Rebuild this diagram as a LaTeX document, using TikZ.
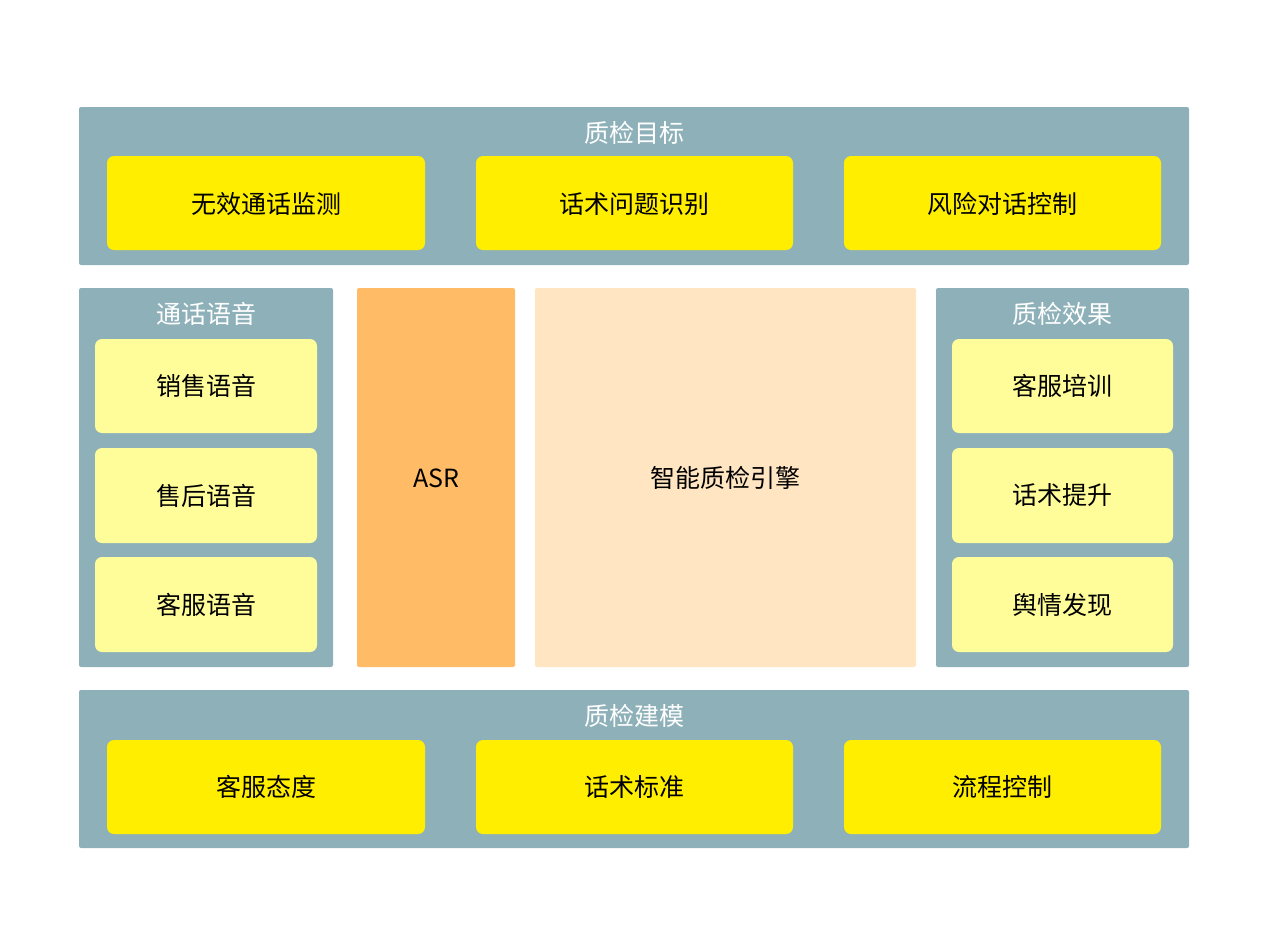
\documentclass[tikz,border=0pt]{standalone}
\usepackage{fontspec}
\setmainfont{Noto Sans CJK SC}
\definecolor{panel}{HTML}{8EB1B9}
\definecolor{ybox}{HTML}{FFEE00}
\definecolor{lybox}{HTML}{FFFD9A}
\definecolor{asrc}{HTML}{FFBB66}
\definecolor{engc}{HTML}{FFE5C2}
\tikzset{
  panelbox/.style={fill=panel, rounded corners=2pt, draw=none},
  ybx/.style={fill=ybox, rounded corners=7pt, draw=none},
  lybx/.style={fill=lybox, rounded corners=7pt, draw=none},
  boxtext/.style={font=\fontsize{25}{29}\selectfont, text=black},
  titletext/.style={font=\fontsize{25}{29}\selectfont, text=white},
}
\begin{document}
\begin{tikzpicture}[x=1pt,y=-1pt]
\useasboundingbox (0,0) rectangle (1269,951);
% top band
\fill[panelbox] (79,107) rectangle (1189,265);
\node[titletext] (t1) at (634,133) {质检目标};
\fill[ybx] (107,156) rectangle (425,250);
\node[boxtext] (a1) at (266,204) {无效通话监测};
\fill[ybx] (476,156) rectangle (793,250);
\node[boxtext] (a2) at (634.5,204) {话术问题识别};
\fill[ybx] (844,156) rectangle (1161,250);
\node[boxtext] (a3) at (1002.5,204) {风险对话控制};
% left panel
\fill[panelbox] (79,288) rectangle (333,667);
\node[titletext] (t2) at (206,314) {通话语音};
\fill[lybx] (95,339) rectangle (317,433);
\node[boxtext] (l1) at (206,386) {销售语音};
\fill[lybx] (95,448) rectangle (317,543);
\node[boxtext] (l2) at (206,495.5) {售后语音};
\fill[lybx] (95,557) rectangle (317,652);
\node[boxtext] (l3) at (206,604.5) {客服语音};
% ASR
\fill[fill=asrc, rounded corners=2pt] (357,288) rectangle (515,667);
\node[boxtext] (asr) at (436,478) {ASR};
% engine
\fill[fill=engc, rounded corners=2pt] (535,288) rectangle (916,667);
\node[boxtext] (eng) at (725.5,478) {智能质检引擎};
% right panel
\fill[panelbox] (936,288) rectangle (1189,667);
\node[titletext] (t3) at (1062.5,314) {质检效果};
\fill[lybx] (952,339) rectangle (1173,433);
\node[boxtext] (r1) at (1062.5,386) {客服培训};
\fill[lybx] (952,448) rectangle (1173,543);
\node[boxtext] (r2) at (1062.5,495.5) {话术提升};
\fill[lybx] (952,557) rectangle (1173,652);
\node[boxtext] (r3) at (1062.5,604.5) {舆情发现};
% bottom band
\fill[panelbox] (79,690) rectangle (1189,848);
\node[titletext] (t4) at (634,716) {质检建模};
\fill[ybx] (107,740) rectangle (425,834);
\node[boxtext] (b1) at (266,787) {客服态度};
\fill[ybx] (476,740) rectangle (793,834);
\node[boxtext] (b2) at (634.5,787) {话术标准};
\fill[ybx] (844,740) rectangle (1161,834);
\node[boxtext] (b3) at (1002.5,787) {流程控制};
\end{tikzpicture}
\end{document}
